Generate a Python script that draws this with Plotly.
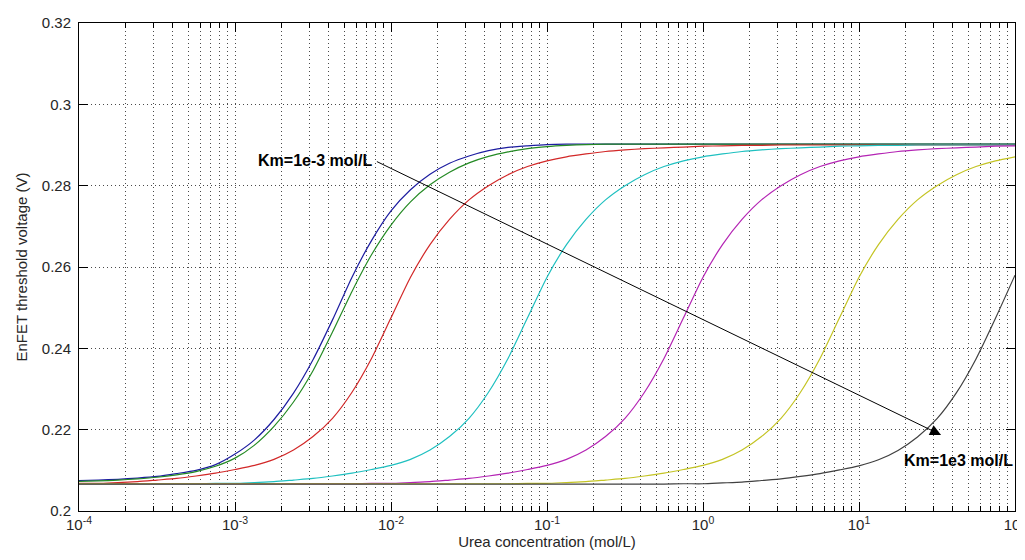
import plotly.graph_objects as go

# ---------------- data ----------------
# log10 of urea concentration, every 1/8 decade from 1e-4 to 1e2
log_conc = [-4.0, -3.875, -3.75, -3.625, -3.5, -3.375, -3.25, -3.125,
            -3.0, -2.875, -2.75, -2.625, -2.5, -2.375, -2.25, -2.125,
            -2.0, -1.875, -1.75, -1.625, -1.5, -1.375, -1.25, -1.125,
            -1.0, -0.875, -0.75, -0.625, -0.5, -0.375, -0.25, -0.125,
            0.0, 0.125, 0.25, 0.375, 0.5, 0.625, 0.75, 0.875,
            1.0, 1.125, 1.25, 1.375, 1.5, 1.625, 1.75, 1.875, 2.0]

v_blue = [0.2075, 0.2076, 0.2078, 0.2081, 0.2085, 0.2092, 0.2100, 0.2114,
          0.2140, 0.2175, 0.2225, 0.2290, 0.2372, 0.2470, 0.2575, 0.2665,
          0.2738, 0.2790, 0.2828, 0.2855, 0.2873, 0.2886, 0.2894, 0.2898,
          0.2901, 0.2902, 0.2902, 0.2902, 0.2902, 0.2902, 0.2902, 0.2902,
          0.2902, 0.2902, 0.2902, 0.2902, 0.2902, 0.2902, 0.2902, 0.2902,
          0.2902, 0.2902, 0.2902, 0.2902, 0.2902, 0.2902, 0.2902, 0.2902, 0.2902]
v_green = [0.2073, 0.2074, 0.2076, 0.2079, 0.2083, 0.2089, 0.2097, 0.2110,
           0.2130, 0.2162, 0.2208, 0.2268, 0.2345, 0.2440, 0.2540, 0.2630,
           0.2703, 0.2760, 0.2802, 0.2833, 0.2856, 0.2872, 0.2883, 0.2891,
           0.2896, 0.2899, 0.2901, 0.2902, 0.2902, 0.2902, 0.2902, 0.2902,
           0.2902, 0.2902, 0.2902, 0.2902, 0.2902, 0.2902, 0.2902, 0.2902,
           0.2902, 0.2902, 0.2902, 0.2902, 0.2902, 0.2902, 0.2902, 0.2902, 0.2902]
v_red = [0.2068, 0.2068, 0.2070, 0.2072, 0.2076, 0.2080, 0.2086, 0.2093,
         0.2102, 0.2112, 0.2127, 0.2150, 0.2183, 0.2228, 0.2292, 0.2375,
         0.2475, 0.2575, 0.2655, 0.2717, 0.2765, 0.2800, 0.2827, 0.2847,
         0.2861, 0.2871, 0.2878, 0.2884, 0.2888, 0.2891, 0.2893, 0.2895,
         0.2897, 0.2898, 0.2899, 0.2899, 0.2900, 0.2900, 0.2900, 0.2900,
         0.2900, 0.2900, 0.2900, 0.2900, 0.2900, 0.2900, 0.2900, 0.2900, 0.2900]
v_cyan = [0.2067, 0.2067, 0.2067, 0.2067, 0.2067, 0.2067, 0.2067, 0.2068,
          0.2068, 0.2070, 0.2072, 0.2076, 0.2080, 0.2086, 0.2093, 0.2102,
          0.2112, 0.2127, 0.2150, 0.2183, 0.2228, 0.2292, 0.2375, 0.2475,
          0.2575, 0.2655, 0.2717, 0.2765, 0.2800, 0.2827, 0.2847, 0.2861,
          0.2871, 0.2878, 0.2884, 0.2888, 0.2891, 0.2893, 0.2895, 0.2897,
          0.2898, 0.2899, 0.2899, 0.2900, 0.2900, 0.2900, 0.2900, 0.2900, 0.2900]
v_magenta = [0.2067, 0.2067, 0.2067, 0.2067, 0.2067, 0.2067, 0.2067, 0.2067,
             0.2067, 0.2067, 0.2067, 0.2067, 0.2067, 0.2067, 0.2067, 0.2068,
             0.2068, 0.2070, 0.2072, 0.2076, 0.2080, 0.2086, 0.2093, 0.2102,
             0.2112, 0.2127, 0.2150, 0.2183, 0.2228, 0.2292, 0.2375, 0.2475,
             0.2575, 0.2655, 0.2717, 0.2765, 0.2800, 0.2827, 0.2847, 0.2861,
             0.2871, 0.2878, 0.2884, 0.2888, 0.2891, 0.2893, 0.2895, 0.2897, 0.2898]
v_yellow = [0.2067, 0.2067, 0.2067, 0.2067, 0.2067, 0.2067, 0.2067, 0.2067,
            0.2067, 0.2067, 0.2067, 0.2067, 0.2067, 0.2067, 0.2067, 0.2067,
            0.2067, 0.2067, 0.2067, 0.2067, 0.2067, 0.2067, 0.2067, 0.2068,
            0.2068, 0.2070, 0.2072, 0.2076, 0.2080, 0.2086, 0.2093, 0.2102,
            0.2112, 0.2127, 0.2150, 0.2183, 0.2228, 0.2292, 0.2375, 0.2475,
            0.2575, 0.2655, 0.2717, 0.2765, 0.2800, 0.2827, 0.2847, 0.2861, 0.2871]
v_black = [0.2066, 0.2066, 0.2066, 0.2066, 0.2066, 0.2066, 0.2066, 0.2066,
           0.2066, 0.2066, 0.2066, 0.2066, 0.2066, 0.2066, 0.2066, 0.2066,
           0.2066, 0.2066, 0.2066, 0.2066, 0.2066, 0.2066, 0.2066, 0.2066,
           0.2066, 0.2066, 0.2066, 0.2066, 0.2066, 0.2066, 0.2066, 0.2067,
           0.2067, 0.2069, 0.2071, 0.2075, 0.2079, 0.2085, 0.2092, 0.2101,
           0.2111, 0.2126, 0.2149, 0.2182, 0.2227, 0.2291, 0.2374, 0.2474, 0.2580]

series = [v_blue, v_green, v_red, v_cyan, v_magenta, v_yellow, v_black]
colors = ["#1c1ca0", "#248a24", "#d22828", "#1fc0c0", "#b424b4", "#c4c424", "#404040"]

x_tickvals = [1e-4, 1e-3, 1e-2, 1e-1, 1e0, 1e1, 1e2]
x_ticktext = ["10<sup>-4</sup>", "10<sup>-3</sup>", "10<sup>-2</sup>", "10<sup>-1</sup>",
              "10<sup>0</sup>", "10<sup>1</sup>", "10<sup>2</sup>"]
y_tickvals = [0.2, 0.22, 0.24, 0.26, 0.28, 0.3, 0.32]
y_ticktext = ["0.2", "0.22", "0.24", "0.26", "0.28", "0.3", "0.32"]

label_low = "Km=1e-3 mol/L"
label_high = "Km=1e3 mol/L"

for s in series:
    assert len(s) == len(log_conc)

# ---------------- figure ----------------
conc = [10 ** v for v in log_conc]
minor_vals = [m * d for d in x_tickvals[:-1] for m in range(2, 10)]

FONT = "Liberation Sans, Arial, sans-serif"
GRID = "#4a4a4a"
DASH = "1px,3px"
TXT = "#262626"

fig = go.Figure()
for vals, col in zip(series, colors):
    fig.add_trace(go.Scatter(x=conc, y=vals, mode="lines",
                             line=dict(color=col, width=1.2, shape="spline", smoothing=0.6),
                             hoverinfo="skip", showlegend=False))

fig.update_xaxes(type="log", range=[-4, 2], automargin=False,
                 tickmode="array", tickvals=x_tickvals, ticktext=x_ticktext,
                 ticks="inside", ticklen=9, tickwidth=1, tickcolor="black",
                 showline=True, linecolor="black", linewidth=1, mirror="ticks",
                 showgrid=True, gridcolor=GRID, gridwidth=1, griddash=DASH,
                 zeroline=False,
                 minor=dict(tickmode="array", tickvals=minor_vals, ticks="inside",
                            ticklen=5, tickwidth=1, tickcolor="black",
                            showgrid=True, gridcolor=GRID, gridwidth=1, griddash=DASH),
                 tickfont=dict(family=FONT, size=15, color=TXT),
                 title=dict(text="Urea concentration (mol/L)",
                            font=dict(family=FONT, size=15, color=TXT), standoff=4))

fig.update_yaxes(range=[0.2, 0.32], automargin=False,
                 tickmode="array", tickvals=y_tickvals, ticktext=y_ticktext,
                 ticks="inside", ticklen=9, tickwidth=1, tickcolor="black",
                 showline=True, linecolor="black", linewidth=1, mirror="ticks",
                 showgrid=True, gridcolor=GRID, gridwidth=1, griddash=DASH,
                 zeroline=False, ticklabelstandoff=4,
                 tickfont=dict(family=FONT, size=15, color=TXT),
                 title=dict(text="EnFET threshold voltage (V)",
                            font=dict(family=FONT, size=15, color=TXT), standoff=10))

# arrow from low-Km label to high-Km label
fig.add_annotation(x=1.526, y=0.2187, ax=-2.10, ay=0.2861,
                   xref="x", yref="y", axref="x", ayref="y",
                   text="", showarrow=True, arrowhead=2, arrowsize=2.2,
                   arrowwidth=1, arrowcolor="black")
fig.add_annotation(x=-2.11, y=0.2861, xref="x", yref="y", text="<b>" + label_low + "</b>",
                   showarrow=False, xanchor="right", yanchor="middle",
                   font=dict(family=FONT, size=16, color="black"))
fig.add_annotation(x=2, y=0.2123, xref="x", yref="y", text="<b>" + label_high + "</b>",
                   showarrow=False, xanchor="right", yanchor="middle",
                   font=dict(family=FONT, size=16, color="black"))

fig.update_layout(width=1025, height=560,
                  margin=dict(l=71, r=18, t=15, b=57),
                  paper_bgcolor="white", plot_bgcolor="white",
                  showlegend=False)

fig.write_html("out.html")
